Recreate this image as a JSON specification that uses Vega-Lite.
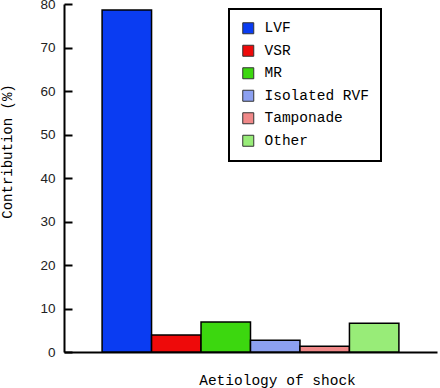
{
  "$schema": "https://vega.github.io/schema/vega-lite/v6.json",
  "autosize": "none",
  "width": 373,
  "height": 348,
  "padding": {"left": 64, "top": 4, "right": 3, "bottom": 36},
  "background": "white",
  "config": {"view": {"stroke": null}, "legend": {"strokeWidth": 2}},
  "data": {
    "values": [
      {"cause": "LVF", "value": 78.6},
      {"cause": "VSR", "value": 3.9},
      {"cause": "MR", "value": 6.9},
      {"cause": "Isolated RVF", "value": 2.7},
      {"cause": "Tamponade", "value": 1.3},
      {"cause": "Other", "value": 6.6}
    ]
  },
  "mark": {"type": "bar", "stroke": "black", "strokeWidth": 1.5},
  "encoding": {
    "x": {
      "field": "cause",
      "type": "nominal",
      "sort": null,
      "scale": {"paddingInner": 0, "paddingOuter": 0.77},
      "axis": {
        "title": "Aetiology of shock",
        "labels": false,
        "ticks": false,
        "domainColor": "black",
        "domainWidth": 2,
        "titleFont": "Liberation Mono",
        "titleFontSize": 14.5,
        "titleFontWeight": "normal",
        "titleColor": "black",
        "titleX": 213,
        "titleY": 28,
        "titleBaseline": "middle",
        "titleAlign": "center"
      }
    },
    "y": {
      "field": "value",
      "type": "quantitative",
      "scale": {"domain": [0, 80], "nice": false},
      "axis": {
        "title": "Contribution (%)",
        "values": [0, 10, 20, 30, 40, 50, 60, 70, 80],
        "grid": false,
        "domainColor": "black",
        "domainWidth": 2,
        "tickColor": "black",
        "tickWidth": 2,
        "tickSize": -8,
        "labelPadding": 17,
        "labelFont": "Liberation Sans",
        "labelFontSize": 13.5,
        "labelColor": "#222",
        "titleFont": "Liberation Mono",
        "titleFontSize": 14,
        "titleFontWeight": "normal",
        "titleColor": "black",
        "titleAngle": -90,
        "titleX": -57,
        "titleY": 147,
        "titleBaseline": "middle",
        "titleAlign": "center"
      }
    },
    "color": {
      "field": "cause",
      "type": "nominal",
      "sort": null,
      "scale": {
        "domain": ["LVF", "VSR", "MR", "Isolated RVF", "Tamponade", "Other"],
        "range": ["#0a3cf2", "#ee0a0a", "#3cd70f", "#8ca0f0", "#f08888", "#98ec78"]
      },
      "legend": {
        "title": null,
        "orient": "none",
        "legendX": 165,
        "legendY": 5,
        "strokeColor": "black",
        "fillColor": "white",
        "padding": 12,
        "rowPadding": 6.5,
        "symbolType": "square",
        "symbolSize": 121,
        "symbolStrokeColor": "#333",
        "symbolStrokeWidth": 1,
        "symbolOpacity": 1,
        "labelFont": "Liberation Mono",
        "labelFontSize": 14.5,
        "labelColor": "black",
        "labelOffset": 9,
        "labelLimit": 300
      }
    }
  }
}
